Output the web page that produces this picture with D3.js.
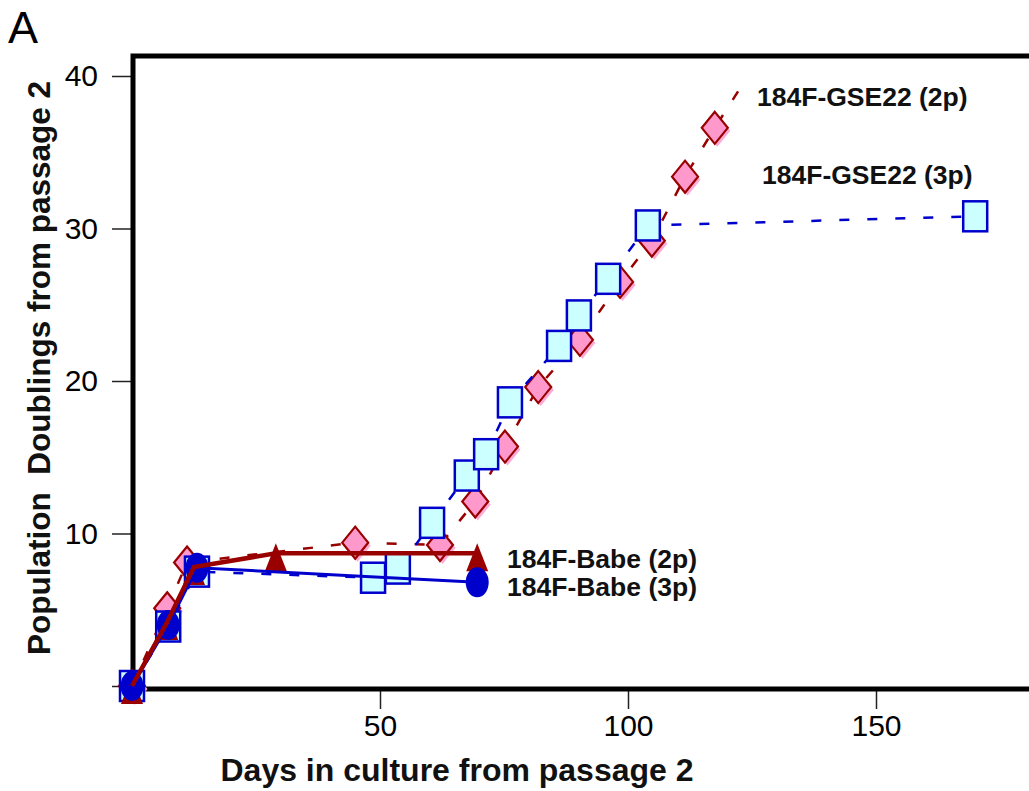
<!DOCTYPE html>
<html><head><meta charset="utf-8">
<script src="https://cdn.jsdelivr.net/npm/d3@7"></script>
<style>html,body{margin:0;padding:0;background:#fff;overflow:hidden}</style>
</head><body>
<svg id="chart" width="1029" height="791"></svg>
<script>
// ---- data ----
const gse2pDays = [0, 7.1, 11.1, 45, 62.1, 69.2, 75.2, 81.9, 90.3, 98.4, 104.8, 111.5, 117.5];
const gse2pPD   = [0, 5.1, 8.1, 9.4, 9.25, 12.1, 15.7, 19.6, 22.7, 26.5, 29.2, 33.4, 36.6];
const gse2pTrendEnd = [122.6, 39.2];
const gse3pDays = [0, 7.3, 13.1, 48.6, 53.6, 60.5, 67.5, 71.4, 76.2, 86.1, 90.1, 96, 104, 170];
const gse3pPD   = [0, 3.9, 7.5, 7.1, 7.7, 10.7, 13.8, 15.2, 18.6, 22.3, 24.3, 26.7, 30.2, 30.8];
const babe2pDays = [0, 7.1, 12.5, 29, 69.6];
const babe2pPD   = [0, 4.2, 7.8, 8.7, 8.7];
const babe3pDays = [0, 7.3, 13.1, 69.6];
const babe3pPD   = [0, 4.0, 7.75, 6.8];
const xTickValues = [50, 100, 150];
const yTickValues = [0, 10, 20, 30, 40];
const seriesLabels = ["184F-GSE22 (2p)", "184F-GSE22 (3p)", "184F-Babe (2p)", "184F-Babe (3p)"];

const svg = d3.select("#chart");
const x = d3.scaleLinear().domain([0, 50]).range([132, 380]);
const y = d3.scaleLinear().domain([0, 40]).range([686, 76]);
const zip = (a, b) => a.map((v, i) => [v, b[i]]);
const line = d3.line().x(d => x(d[0])).y(d => y(d[1]));

const DR = "#990000", BL = "#0000cc";
const FONT = "Liberation Sans, Arial, sans-serif";

// axes ticks (outside the frame)
const yAxis = d3.axisLeft(y).tickValues(yTickValues).tickSize(19).tickPadding(14)
  .tickFormat(d => d === 0 ? "" : d);
const gy = svg.append("g").attr("transform", "translate(131,0)").call(yAxis);
gy.select(".domain").remove();
gy.selectAll("line").attr("stroke", "#222").attr("stroke-width", 1.5);
gy.selectAll("text").attr("font-family", FONT).attr("font-size", 30).attr("fill", "#000");

const xAxis = d3.axisBottom(x).tickValues(xTickValues).tickSize(19).tickPadding(6);
const gx = svg.append("g").attr("transform", "translate(0,690)").call(xAxis);
gx.select(".domain").remove();
gx.selectAll("line").attr("stroke", "#222").attr("stroke-width", 1.5);
gx.selectAll("text").attr("font-family", FONT).attr("font-size", 30).attr("fill", "#000");

// frame
svg.append("path").attr("d", "M1040,56 L133,56 L133,689 L1040,689")
  .attr("fill", "none").attr("stroke", "#000").attr("stroke-width", 5);

const gse2pData = zip(gse2pDays, gse2pPD);
const gse3pData = zip(gse3pDays, gse3pPD);
const babe2pData = zip(babe2pDays, babe2pPD);
const babe3pData = zip(babe3pDays, babe3pPD);

// GSE22 (2p) dashed line
svg.append("path").datum(gse2pData.concat([gse2pTrendEnd]))
  .attr("d", line).attr("fill", "none").attr("stroke", DR).attr("stroke-width", 2.5)
  .attr("stroke-dasharray", "10,18");

// diamonds
const dW = 13, dH = 16;
const diamond = (cx, cy) => `M${cx},${cy - dH} L${cx + dW},${cy} L${cx},${cy + dH} L${cx - dW},${cy} Z`;
const gD = svg.append("g");
gD.selectAll("path.sh").data(gse2pData).join("path").attr("class", "sh")
  .attr("d", d => diamond(x(d[0]) + 2.5, y(d[1]) + 3)).attr("fill", "#ffaad4");
gD.selectAll("path.mk").data(gse2pData).join("path").attr("class", "mk")
  .attr("d", d => diamond(x(d[0]), y(d[1]))).attr("fill", "#ff99cc").attr("stroke", DR).attr("stroke-width", 2.2);

// GSE22 (3p) dashed line
svg.append("path").datum(gse3pData)
  .attr("d", line).attr("fill", "none").attr("stroke", BL).attr("stroke-width", 2.5)
  .attr("stroke-dasharray", "10,18");

// squares
svg.append("g").selectAll("rect").data(gse3pData).join("rect")
  .attr("x", d => x(d[0]) - 12).attr("y", d => y(d[1]) - 15)
  .attr("width", 24).attr("height", 30)
  .attr("fill", "#ccffff").attr("stroke", BL).attr("stroke-width", 2.5);

// triangles
svg.append("g").selectAll("path").data(babe2pData).join("path")
  .attr("d", d => { const cx = x(d[0]), cy = y(d[1]); return `M${cx},${cy - 10} L${cx + 11},${cy + 18} L${cx - 11},${cy + 18} Z`; })
  .attr("fill", DR);

// Babe (3p) solid line
svg.append("path").datum(babe3pData)
  .attr("d", line).attr("fill", "none").attr("stroke", BL).attr("stroke-width", 3);

// circles
svg.append("g").selectAll("ellipse").data(babe3pData).join("ellipse")
  .attr("cx", d => x(d[0])).attr("cy", d => y(d[1]))
  .attr("rx", 11.5).attr("ry", 15).attr("fill", BL);

// Babe (2p) solid line
svg.append("path").datum(babe2pData)
  .attr("d", line).attr("fill", "none").attr("stroke", DR).attr("stroke-width", 4.5);

// series labels
const lab = [[757, 106], [762, 184], [507, 568], [507, 596]];
svg.append("g").selectAll("text").data(seriesLabels).join("text")
  .attr("x", (d, i) => lab[i][0]).attr("y", (d, i) => lab[i][1])
  .attr("font-family", FONT).attr("font-weight", "bold")
  .attr("font-size", 26.5).attr("fill", "#111").text(d => d);

// axis titles
svg.append("text").attr("x", 457).attr("y", 781).attr("text-anchor", "middle")
  .attr("font-family", FONT).attr("font-weight", "bold")
  .attr("font-size", 32).attr("fill", "#111").text("Days in culture from passage 2");
svg.append("text").attr("transform", "translate(50,368) rotate(-90)").attr("text-anchor", "middle")
  .attr("font-family", FONT).attr("font-weight", "bold")
  .attr("font-size", 31.5).attr("fill", "#111").attr("xml:space", "preserve")
  .text("Population  Doublings from passage 2");

// panel letter
svg.append("text").attr("x", 8).attr("y", 43)
  .attr("font-family", FONT).attr("font-size", 45).attr("fill", "#000").text("A");
</script>
</body></html>
